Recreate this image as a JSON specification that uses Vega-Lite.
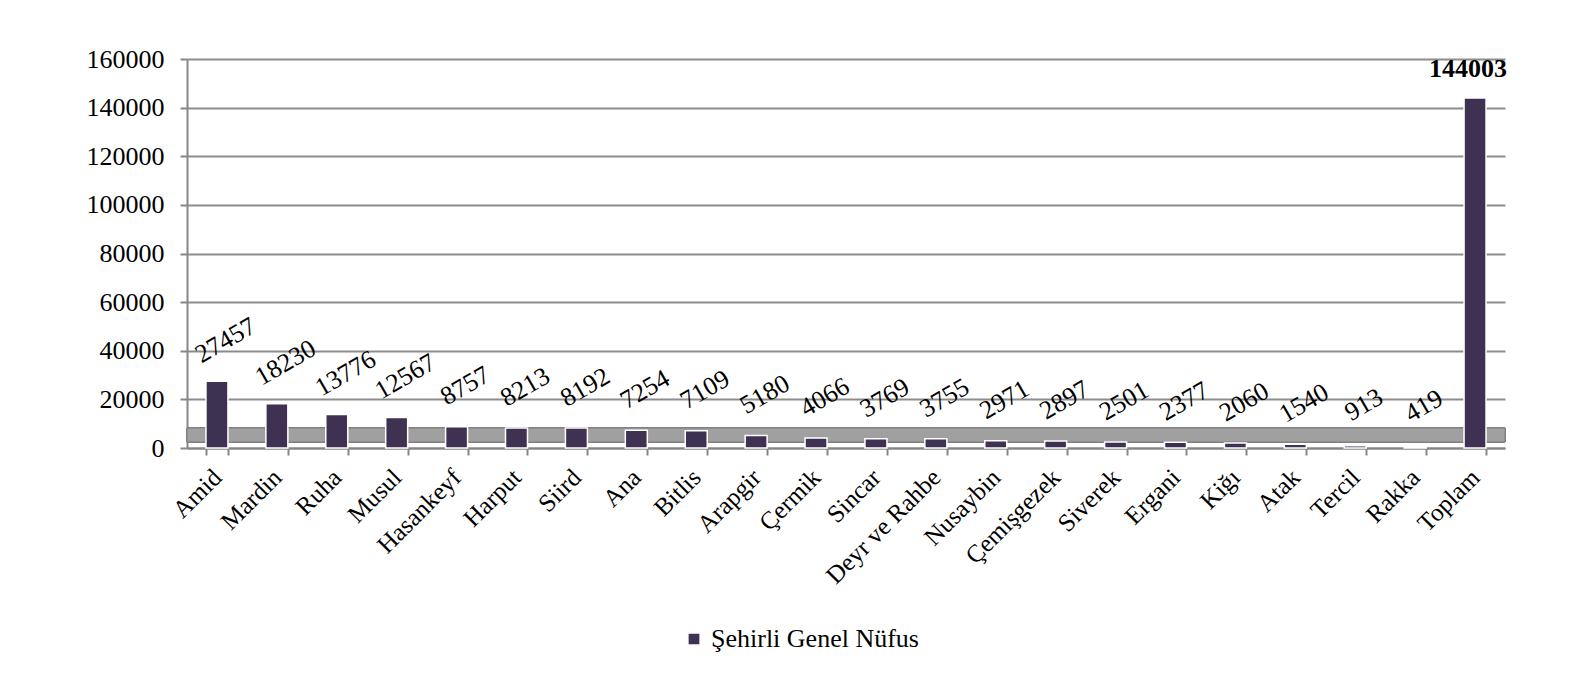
{
  "$schema": "https://vega.github.io/schema/vega-lite/v6.json",
  "width": 1318,
  "height": 389,
  "autosize": {"type": "none"},
  "padding": {"left": 187, "top": 59, "right": 81, "bottom": 235},
  "background": "white",
  "config": {
    "view": {"stroke": null},
    "font": "Liberation Serif",
    "axis": {"labelFont": "Liberation Serif", "titleFont": "Liberation Serif"},
    "legend": {"labelFont": "Liberation Serif"}
  },
  "data": {
    "values": [
      {"sehir": "Amid", "nufus": 27457},
      {"sehir": "Mardin", "nufus": 18230},
      {"sehir": "Ruha", "nufus": 13776},
      {"sehir": "Musul", "nufus": 12567},
      {"sehir": "Hasankeyf", "nufus": 8757},
      {"sehir": "Harput", "nufus": 8213},
      {"sehir": "Siird", "nufus": 8192},
      {"sehir": "Ana", "nufus": 7254},
      {"sehir": "Bitlis", "nufus": 7109},
      {"sehir": "Arapgir", "nufus": 5180},
      {"sehir": "Çermik", "nufus": 4066},
      {"sehir": "Sincar", "nufus": 3769},
      {"sehir": "Deyr ve Rahbe", "nufus": 3755},
      {"sehir": "Nusaybin", "nufus": 2971},
      {"sehir": "Çemişgezek", "nufus": 2897},
      {"sehir": "Siverek", "nufus": 2501},
      {"sehir": "Ergani", "nufus": 2377},
      {"sehir": "Kiğı", "nufus": 2060},
      {"sehir": "Atak", "nufus": 1540},
      {"sehir": "Tercil", "nufus": 913},
      {"sehir": "Rakka", "nufus": 419},
      {"sehir": "Toplam", "nufus": 144003}
    ]
  },
  "encoding": {
    "x": {
      "field": "sehir",
      "type": "nominal",
      "sort": null,
      "scale": {"paddingInner": 0.633, "paddingOuter": 0.3165},
      "axis": {
        "title": null,
        "labelAngle": -45,
        "labelAlign": "right",
        "labelBaseline": "middle",
        "labelFontSize": 25,
        "labelColor": "black",
        "labelPadding": 18,
        "labelLimit": 300,
        "tickBand": "extent",
        "tickSize": 7,
        "tickColor": "#868686",
        "tickWidth": 2,
        "domainColor": "#868686",
        "domainWidth": 2,
        "grid": false
      }
    }
  },
  "layer": [
    {
      "mark": {"type": "rect", "color": "#a0a0a0", "stroke": "#808080", "strokeWidth": 1},
      "encoding": {
        "x": null,
        "y": {"datum": 2470, "type": "quantitative"},
        "y2": {"datum": 8230}
      }
    },
    {
      "mark": {"type": "bar", "stroke": "white", "strokeWidth": 1.5},
      "encoding": {
        "y": {
          "field": "nufus",
          "type": "quantitative",
          "scale": {"domain": [0, 160000], "nice": false},
          "axis": {
            "title": null,
            "values": [0, 20000, 40000, 60000, 80000, 100000, 120000, 140000, 160000],
            "format": "d",
            "labelFontSize": 26,
            "labelColor": "black",
            "labelPadding": 16,
            "tickSize": 7,
            "tickColor": "#868686",
            "tickWidth": 2,
            "domainColor": "#868686",
            "domainWidth": 2,
            "grid": true,
            "gridColor": "#8c8c8c",
            "gridWidth": 2
          }
        },
        "color": {
          "datum": "Şehirli Genel Nüfus",
          "type": "nominal",
          "scale": {"range": ["#3f3151"]},
          "legend": {
            "title": null,
            "orient": "none",
            "legendX": 494,
            "legendY": 567,
            "symbolType": "square",
            "symbolSize": 150,
            "labelFontSize": 26,
            "labelLimit": 0,
            "labelColor": "black"
          }
        }
      }
    },
    {
      "transform": [{"filter": "datum.sehir !== 'Toplam'"}],
      "mark": {"type": "text", "angle": -30, "align": "center", "baseline": "middle", "fontSize": 26, "dx": 28, "dy": -31, "color": "black"},
      "encoding": {
        "y": {"field": "nufus", "type": "quantitative"},
        "text": {"field": "nufus", "type": "quantitative", "format": "d"}
      }
    },
    {
      "transform": [{"filter": "datum.sehir === 'Toplam'"}],
      "mark": {"type": "text", "align": "center", "baseline": "alphabetic", "fontSize": 26, "fontWeight": "bold", "dx": -7, "dy": -21, "color": "black"},
      "encoding": {
        "y": {"field": "nufus", "type": "quantitative"},
        "text": {"field": "nufus", "type": "quantitative", "format": "d"}
      }
    }
  ]
}
